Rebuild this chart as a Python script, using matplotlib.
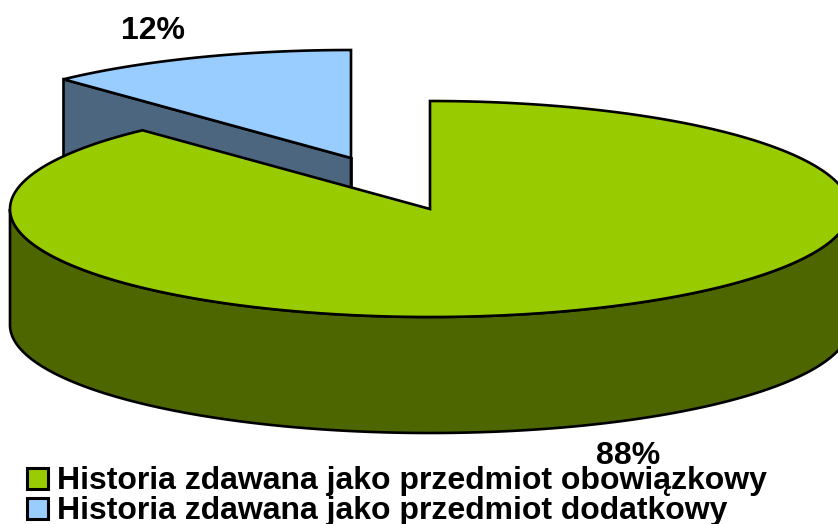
import numpy as np
import matplotlib
matplotlib.use("Agg")
import matplotlib.pyplot as plt
from matplotlib.patches import Polygon, Rectangle

categories = ["Historia zdawana jako przedmiot obowiązkowy", "Historia zdawana jako przedmiot dodatkowy"]
values = [88, 12]
labels = ["88%", "12%"]
top_colors = ["#99CC00", "#99CCFF"]
side_colors = ["#4D6600", "#4D6680"]

CX, CY, RX, RY, DEPTH = 430, 209, 420, 108, 116
OFFSET = (-79, -51)
LW = 1.9

fig = plt.figure(figsize=(8.38, 5.24), dpi=100)
ax = fig.add_axes([0, 0, 1, 1])
ax.set_xlim(0, 838)
ax.set_ylim(524, 0)
ax.axis("off")
plt.rcParams["font.family"] = ["Liberation Sans", "DejaVu Sans"]

def arc(a0, a1, cx, cy, n=300):
    t = np.radians(np.linspace(a0, a1, n))
    return np.c_[cx + RX * np.sin(t), cy - RY * np.cos(t)]

def poly(pts, color, z):
    ax.add_patch(Polygon(pts, closed=True, facecolor=color, edgecolor="black",
                         linewidth=LW, joinstyle="miter", zorder=z))

fracs = np.array(values) / sum(values) * 360
a_green = fracs[0]

# detached slice (behind)
bx, by = CX + OFFSET[0], CY + OFFSET[1]
barc = arc(a_green, 360, bx, by)
left = barc[0]
apex = np.array([bx, by])
down = np.array([0, DEPTH])
poly([left, apex, apex + down, left + down], side_colors[1], 1)
ax.plot([apex[0], apex[0]], [apex[1], apex[1] + DEPTH], color="black", lw=LW, zorder=1)
poly(np.vstack([[apex], barc]), top_colors[1], 2)

# main slice
side_arc = arc(90, 270, CX, CY)
poly(np.vstack([side_arc, (side_arc + down)[::-1]]), side_colors[0], 3)
garc = arc(0, a_green, CX, CY)
poly(np.vstack([[(CX, CY)], garc]), top_colors[0], 4)

ax.text(152.5, 39, labels[1], fontsize=23, fontweight="bold", ha="center", va="baseline", zorder=6)
ax.text(628.5, 464, labels[0], fontsize=23, fontweight="bold", ha="center", va="baseline", zorder=6)

for y, base, name, col in zip([478, 508.5], [489, 519], categories, top_colors):
    ax.add_patch(Rectangle((27, y - 10.5), 21, 21, facecolor=col, edgecolor="black", linewidth=2.2, zorder=6))
    ax.text(57, base, name, fontsize=23.05, fontweight="bold", ha="left", va="baseline", zorder=7)

fig.savefig("out.png", dpi=100)
